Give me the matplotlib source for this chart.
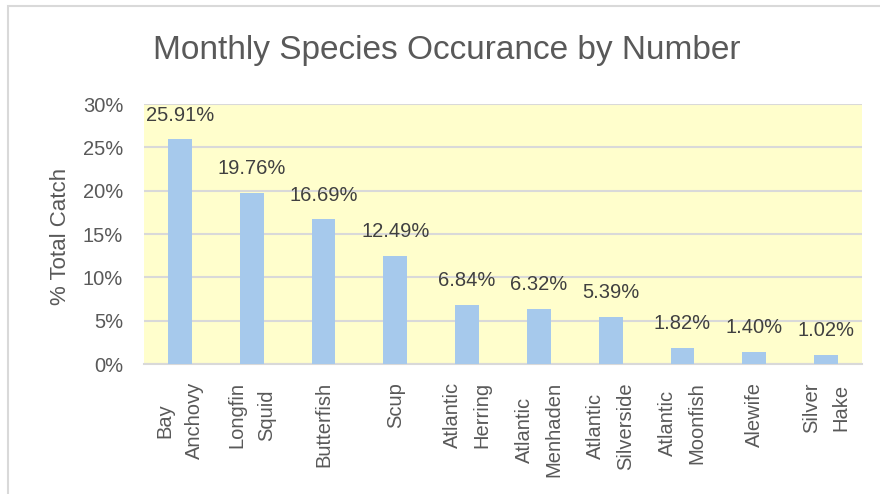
import matplotlib
matplotlib.use("Agg")
import matplotlib.pyplot as plt
from matplotlib.patches import Rectangle
from matplotlib.ticker import FuncFormatter, MultipleLocator

species = ["Bay\nAnchovy", "Longfin\nSquid", "Butterfish", "Scup", "Atlantic\nHerring",
           "Atlantic\nMenhaden", "Atlantic\nSilverside", "Atlantic\nMoonfish", "Alewife",
           "Silver\nHake"]
pct_catch = [25.91, 19.76, 16.69, 12.49, 6.84, 6.32, 5.39, 1.82, 1.40, 1.02]
title = "Monthly Species Occurance by Number"
y_label = "% Total Catch"

TEXT = "#595959"
GRID = "#D9D9D9"
plt.rcParams["font.family"] = ["Liberation Sans", "DejaVu Sans"]

fig = plt.figure(figsize=(8.8, 4.94), dpi=100)
fig.patch.set_facecolor("white")

# outer chart frame (left and top edges visible)
fig.patches.append(Rectangle((8 / 880, -0.1), 1.2, (494 - 6) / 494 + 0.1,
                             transform=fig.transFigure, fill=False,
                             edgecolor=GRID, linewidth=1.5, zorder=0))

ax = fig.add_axes([144 / 880, 130 / 494, 718 / 880, 260 / 494])
ax.set_facecolor("#FFFECC")

x = range(len(species))
ax.bar(x, pct_catch, width=0.33, color="#A6C9EC", zorder=3)

for xi, v in zip(x, pct_catch):
    ax.annotate(f"{v:.2f}%", (xi, v), xytext=(0, 17.5), textcoords="offset points",
                ha="center", va="center", fontsize=14.5, color="#404040", zorder=4)

ax.set_xlim(-0.5, len(species) - 0.5)
ax.set_ylim(0, 30)
ax.yaxis.set_major_locator(MultipleLocator(5))
ax.yaxis.set_major_formatter(FuncFormatter(lambda v, p: f"{v:.0f}%"))
ax.grid(axis="y", color=GRID, linewidth=1.5, zorder=1)
ax.set_axisbelow(True)

for s in ["top", "right", "left"]:
    ax.spines[s].set_visible(False)
ax.spines["bottom"].set_color(GRID)
ax.spines["bottom"].set_linewidth(1.5)
ax.spines["bottom"].set_zorder(2)

ax.set_xticks(list(x))
ax.set_xticklabels(species, rotation=90, ha="center", va="top", multialignment="center",
                   linespacing=1.7)
ax.tick_params(axis="x", length=0, pad=13, labelsize=14.5, labelcolor=TEXT)
ax.tick_params(axis="y", length=0, pad=15, labelsize=14.5, labelcolor=TEXT)

fig.text(60 / 880, 1 - 236 / 494, y_label, rotation=90, ha="center", va="center",
         fontsize=16, color=TEXT)
fig.text(447 / 880, 1 - 50 / 494, title, ha="center", va="center",
         fontsize=24, color=TEXT)

fig.savefig("out.png", dpi=100)
